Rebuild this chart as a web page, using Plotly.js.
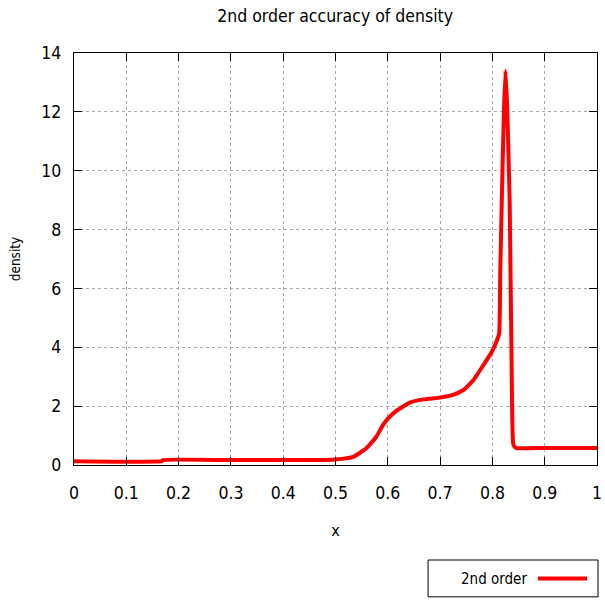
<!DOCTYPE html>
<html>
<head>
<meta charset="utf-8">
<script src="https://cdn.plot.ly/plotly-3.0.1.min.js"></script>
<style>html,body{margin:0;padding:0;background:#fff;}#chart{width:605px;height:600px;}</style>
</head>
<body>
<div id="chart"></div>
<script>
var xs = [0, 0.168, 0.170, 0.30, 0.47, 0.499, 0.534, 0.559, 0.578, 0.591, 0.601, 0.617, 0.642, 0.668, 0.700, 0.725, 0.745, 0.764, 0.783, 0.799, 0.809, 0.813, 0.815, 0.818, 0.822, 0.825, 0.828, 0.833, 0.837, 0.840, 0.845, 0.90, 1.0];
var density = [0.13, 0.13, 0.17, 0.17, 0.17, 0.19, 0.28, 0.57, 0.96, 1.36, 1.59, 1.85, 2.12, 2.23, 2.29, 2.38, 2.55, 2.89, 3.40, 3.85, 4.25, 4.47, 6.5, 9.0, 12.0, 13.4, 12.3, 9.0, 3.0, 0.70, 0.58, 0.58, 0.58];
var xTickVals = [0, 0.1, 0.2, 0.3, 0.4, 0.5, 0.6, 0.7, 0.8, 0.9, 1];
var xTickText = ["0", "0.1", "0.2", "0.3", "0.4", "0.5", "0.6", "0.7", "0.8", "0.9", "1"];
var yTickVals = [0, 2, 4, 6, 8, 10, 12, 14];
var seriesName = "2nd order";

var font = "DejaVu Sans Condensed, Liberation Sans Narrow, DejaVu Sans, sans-serif";

var trace = {
  x: xs, y: density, type: 'scatter', mode: 'lines', name: seriesName,
  line: {color: '#ff0000', width: 4, shape: 'spline', smoothing: 0.4}, showlegend: false
};

var layout = {
  width: 605, height: 600,
  margin: {l: 74, r: 8, t: 53, b: 135},
  paper_bgcolor: '#fff', plot_bgcolor: '#fff',
  font: {family: font, color: '#000'},
  title: {text: '2nd order accuracy of density', font: {size: 17.5, family: font},
          x: 0.554, xref: 'container', y: 0.973, yref: 'container', yanchor: 'middle', xanchor: 'center'},
  xaxis: {
    range: [0, 1], tickvals: xTickVals, ticktext: xTickText,
    ticks: 'inside', ticklen: 8, tickcolor: '#000', mirror: 'allticks',
    showline: true, linecolor: '#000', linewidth: 1.3,
    showgrid: true, gridcolor: '#a8a8a8', griddash: 'dot', gridwidth: 1,
    zeroline: false, tickfont: {size: 17.5, family: font}, ticklabelstandoff: 12,
    title: {text: 'x', font: {size: 16, family: font}, standoff: 22}
  },
  yaxis: {
    range: [0, 14], tickvals: yTickVals,
    ticks: 'inside', ticklen: 8, tickcolor: '#000', mirror: 'allticks',
    showline: true, linecolor: '#000', linewidth: 1.3,
    showgrid: true, gridcolor: '#a8a8a8', griddash: 'dot', gridwidth: 1,
    zeroline: false, tickfont: {size: 17.5, family: font}, ticklabelstandoff: 8,
    title: {text: 'density', font: {size: 13.5, family: font}, standoff: 17}
  },
  shapes: [
    {type: 'rect', xref: 'paper', yref: 'paper', x0: 0.677, x1: 1.002, y0: -0.2306, y1: -0.320,
     line: {color: '#000', width: 1}, fillcolor: 'rgba(0,0,0,0)'},
    {type: 'line', xref: 'paper', yref: 'paper', x0: 0.887, x1: 0.981, y0: -0.2755, y1: -0.2755,
     line: {color: '#ff0000', width: 4}}
  ],
  annotations: [
    {text: seriesName, xref: 'paper', yref: 'paper', x: 0.870, y: -0.2755, xanchor: 'right', yanchor: 'middle',
     showarrow: false, font: {size: 15, family: font}}
  ]
};

Plotly.newPlot('chart', [trace], layout, {staticPlot: true, displayModeBar: false});
</script>
</body>
</html>
